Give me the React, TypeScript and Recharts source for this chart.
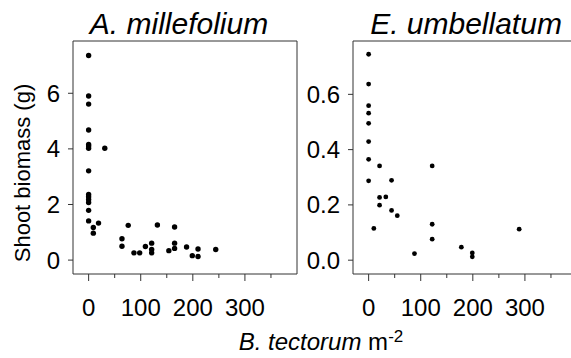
import { ScatterChart, Scatter, XAxis, YAxis, ReferenceArea } from "recharts";

// density of B. tectorum (plants m-2) vs shoot biomass (g)
const millefoliumX = [0, 0, 0, 0, 0, 0, 0, 31, 0, 0, 0, 0, 0, 0, 0, 9, 9, 19, 64, 64, 76, 87, 98, 109, 121, 121, 121, 132, 154, 165, 165, 165, 188, 199, 210, 210, 244];
const millefoliumY = [7.36, 5.9, 5.61, 4.68, 4.16, 4.1, 4.02, 4.02, 3.21, 2.36, 2.28, 2.18, 2.07, 1.79, 1.41, 1.17, 0.97, 1.33, 0.77, 0.5, 1.25, 0.26, 0.26, 0.49, 0.61, 0.38, 0.26, 1.26, 0.34, 1.19, 0.61, 0.42, 0.47, 0.16, 0.4, 0.13, 0.38];

const umbellatumX = [0, 0, 0, 0, 0, 0, 0, 0, 10, 21, 21, 21, 33, 44, 44, 55, 88, 122, 122, 122, 178, 199, 199, 289];
const umbellatumY = [0.745, 0.637, 0.559, 0.532, 0.495, 0.429, 0.365, 0.287, 0.115, 0.341, 0.227, 0.199, 0.229, 0.289, 0.18, 0.161, 0.024, 0.341, 0.13, 0.076, 0.047, 0.026, 0.012, 0.112];

const xTicks = [0, 50, 100, 150, 200, 250, 300, 350];
const xLabelled = [0, 100, 200, 300];
const millefoliumTicks = [0, 2, 4, 6];
const umbellatumTicks = [0, 0.2, 0.4, 0.6];

const X_DOMAIN: [number, number] = [-30, 400];
const AXIS = "#333";
const FONT = '"Liberation Sans", Arial, Helvetica, sans-serif';

const zip = (xs: number[], ys: number[]) => xs.map((x, i) => ({ x, y: ys[i] }));

function XTick(props: any) {
  const { x, y, payload } = props;
  const major = xLabelled.includes(payload.value);
  return (
    <g>
      <line x1={x} x2={x} y1={y} y2={y + (major ? 7 : 4)} stroke={AXIS} />
      {major && (
        <text x={x} y={y + 42} textAnchor="middle" fontSize={24} fill="#000">
          {payload.value}
        </text>
      )}
    </g>
  );
}

const dot = (r: number) => (p: any) => <circle cx={p.cx} cy={p.cy} r={r} fill="#000" />;

interface PanelProps {
  data: { x: number; y: number }[];
  yDomain: [number, number];
  yTicks: number[];
  yFmt: (v: number) => string;
  width: number;
  yWidth: number;
  r: number;
}

function Panel({ data, yDomain, yTicks, yFmt, width, yWidth, r }: PanelProps) {
  return (
    <ScatterChart width={width} height={358} margin={{ top: 41, right: 3, bottom: 0, left: 0 }}>
      <XAxis
        type="number"
        dataKey="x"
        domain={X_DOMAIN}
        ticks={xTicks}
        interval={0}
        tick={<XTick />}
        tickLine={false}
        tickSize={0}
        tickMargin={0}
        height={84}
        axisLine={false}
        allowDataOverflow
      />
      <YAxis
        type="number"
        dataKey="y"
        domain={yDomain}
        ticks={yTicks}
        interval={0}
        width={yWidth}
        tickSize={5}
        tickMargin={8}
        tickFormatter={yFmt}
        tick={{ fontSize: 24, fill: "#000" }}
        tickLine={{ stroke: AXIS }}
        axisLine={false}
        allowDataOverflow
      />
      {/* panel frame */}
      <ReferenceArea
        x1={X_DOMAIN[0]}
        x2={X_DOMAIN[1]}
        y1={yDomain[0]}
        y2={yDomain[1]}
        fill="none"
        stroke={AXIS}
        strokeWidth={1}
        ifOverflow="visible"
      />
      <Scatter data={data} shape={dot(r)} isAnimationActive={false} />
    </ScatterChart>
  );
}

export default function App() {
  return (
    <div
      style={{
        position: "fixed",
        left: 0,
        top: 0,
        width: 571,
        height: 358,
        overflow: "hidden",
        background: "#fff",
        fontFamily: FONT,
      }}
    >
      <div style={{ position: "absolute", left: 0, top: 0 }}>
        <Panel
          data={zip(millefoliumX, millefoliumY)}
          yDomain={[-0.5, 7.88]}
          yTicks={millefoliumTicks}
          yFmt={(v) => String(v)}
          width={300}
          yWidth={73}
          r={2.7}
        />
      </div>
      <div style={{ position: "absolute", left: 300, top: 0 }}>
        <Panel
          data={zip(umbellatumX, umbellatumY)}
          yDomain={[-0.05, 0.793]}
          yTicks={umbellatumTicks}
          yFmt={(v) => v.toFixed(1)}
          width={280}
          yWidth={53}
          r={2.4}
        />
      </div>
      <svg
        width={571}
        height={358}
        style={{ position: "absolute", left: 0, top: 0, pointerEvents: "none" }}
        fontFamily={FONT}
      >
        <text x={179} y={34} textAnchor="middle" fontSize={30} fontStyle="italic">
          A. millefolium
        </text>
        <text x={466} y={34} textAnchor="middle" fontSize={30} fontStyle="italic">
          E. umbellatum
        </text>
        <text transform="translate(30,173) rotate(-90)" textAnchor="middle" fontSize={22}>
          Shoot biomass (g)
        </text>
        <text x={321} y={350} textAnchor="middle" fontSize={24}>
          <tspan fontStyle="italic">B. tectorum</tspan>
          <tspan> m</tspan>
          <tspan fontSize={17} dy={-8}>-2</tspan>
        </text>
      </svg>
    </div>
  );
}
